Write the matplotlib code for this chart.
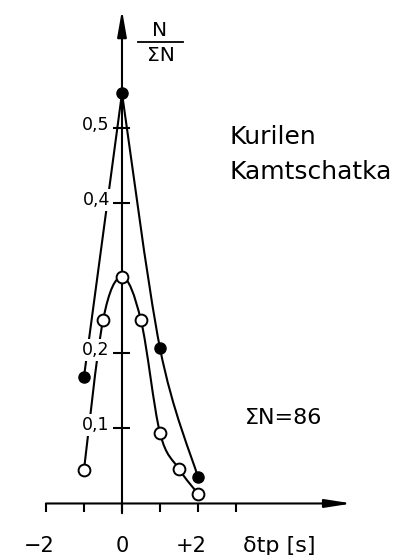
import matplotlib

matplotlib.use("Agg")
import matplotlib.pyplot as plt
import numpy as np
from matplotlib.patches import PathPatch
from matplotlib.path import Path

# relative frequency N/ΣN over the onset-time residual δtp [s]
dt_closed = [-1, 0, 1, 2]
frac_closed = [0.169, 0.547, 0.207, 0.035]
dt_open = [-1, -0.5, 0, 0.5, 1, 1.5, 2]
frac_open = [0.045, 0.244, 0.302, 0.244, 0.094, 0.046, 0.013]

x_ticks = [-2, -1, 0, 1, 2, 3]
x_tick_labels = {-2: "\u22122", 0: "0", 2: "+2"}
y_ticks = [0.1, 0.2, 0.4, 0.5]
y_tick_labels = ["0,1", "0,2", "0,4", "0,5"]

region_lines = ["Kurilen", "Kamtschatka"]
total_label = "\u03a3N=86"


def smooth_path(xs, ys):
    """Catmull-Rom style cubic Bezier path through the given points."""
    pts = np.column_stack([xs, ys]).astype(float)
    n = len(pts)
    verts = [pts[0]]
    codes = [Path.MOVETO]
    for i in range(n - 1):
        p_prev = pts[i - 1] if i > 0 else pts[i]
        p_after = pts[i + 2] if i + 2 < n else pts[i + 1]
        c1 = pts[i] + (pts[i + 1] - p_prev) / 6
        c2 = pts[i + 1] - (p_after - pts[i]) / 6
        verts += [c1, c2, pts[i + 1]]
        codes += [Path.CURVE4] * 3
    return Path(verts, codes)


def add_curve(ax, xs, ys):
    ax.add_patch(PathPatch(smooth_path(xs, ys), fill=False, ec="black",
                           lw=1.5, zorder=2, capstyle="round"))


fig = plt.figure(figsize=(3.96, 5.55), dpi=100)
ax = fig.add_axes([0, 0, 1, 1])
ax.set_xlim(-3.21, 7.21)
ax.set_ylim(-0.0687, 0.6713)
ax.axis("off")

axis_kw = dict(color="black", lw=1.5, zorder=3, solid_capstyle="butt")

# axes with arrow heads
ax.annotate("", xy=(6.05, 0), xytext=(-2, 0),
            arrowprops=dict(arrowstyle="-|>,head_length=1.6,head_width=0.25",
                            lw=1.5, color="black", shrinkA=0, shrinkB=0))
ax.annotate("", xy=(0, 0.658), xytext=(0, -0.013),
            arrowprops=dict(arrowstyle="-|>,head_length=1.6,head_width=0.28",
                            lw=1.5, color="black", shrinkA=0, shrinkB=0))

for xt in x_ticks:
    ax.plot([xt, xt], [0, -0.012], **axis_kw)
for yt in y_ticks:
    ax.plot([-0.24, 0.21], [yt, yt], **axis_kw)

label_box = dict(boxstyle="square,pad=0.12", fc="white", ec="none")
for xt, lab in x_tick_labels.items():
    shift = -0.17 if lab[0] in "+\u2212" else 0
    ax.text(xt + shift, -0.0647, lab, ha="center", va="baseline", fontsize=15)
for yt, lab in zip(y_ticks, y_tick_labels):
    ax.text(-0.32, yt + 0.005, lab, ha="right", va="center", fontsize=12.5,
            bbox=label_box, zorder=5)

ax.text(3.18, -0.0647, "\u03b4tp [s]", ha="left", va="baseline", fontsize=16)

# N / ΣN axis title
ax.text(1.0, 0.631, "N", ha="center", va="center", fontsize=14.5)
ax.plot([0.42, 1.6], [0.615, 0.615], color="black", lw=1.3)
ax.text(1.03, 0.597, "\u03a3N", ha="center", va="center", fontsize=14.5)

# closed symbols: sharp peak, so the rising and falling limbs are separate curves
peak = int(np.argmax(frac_closed))
add_curve(ax, dt_closed[:peak + 1], frac_closed[:peak + 1])
add_curve(ax, dt_closed[peak:], frac_closed[peak:])
add_curve(ax, dt_open, frac_open)

ax.plot(dt_closed, frac_closed, "o", ms=8, mfc="black", mec="black", zorder=4)
ax.plot(dt_open, frac_open, "o", ms=8.5, mfc="white", mec="black", mew=1.4,
        zorder=4)

ax.text(2.84, 0.479, region_lines[0], ha="left", va="baseline", fontsize=18)
ax.text(2.84, 0.433, region_lines[1], ha="left", va="baseline", fontsize=18)
ax.text(3.24, 0.106, total_label, ha="left", va="baseline", fontsize=16)

fig.savefig("out.png", dpi=100)
plt.close(fig)
